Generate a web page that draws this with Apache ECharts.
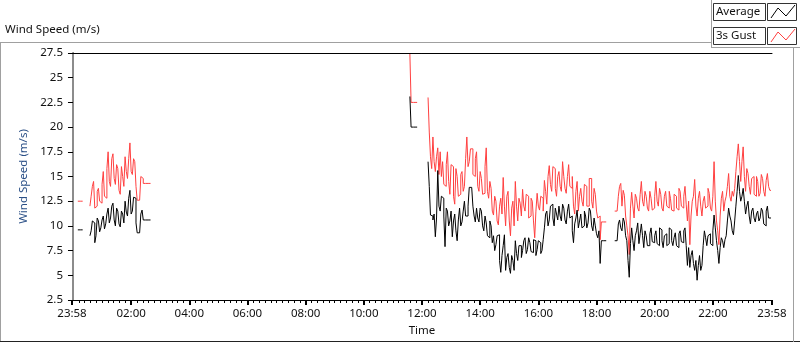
<!DOCTYPE html>
<html><head><meta charset="utf-8">
<script src="https://cdn.jsdelivr.net/npm/echarts@6/dist/echarts.min.js"></script>
<style>html,body{margin:0;padding:0;background:#fff}#c{width:800px;height:342px}</style>
</head><body><div id="c"></div>
<script>
// Samples every 2.5 minutes starting at 00:00 (index i -> minute 2.5*i); 24 samples per hour row; null = no data
const sampleStepMin = 2.5;
const N = null;
const avgSpeed = [
  /*00*/ N,N,N,N,N,9.6,9.6,9.6,9.6,N,N,N,N,N,N,9.0,9.5,10.5,10.3,8.3,9.0,10.8,10.5,9.4,
  /*01*/ 9.8,10.6,11.0,9.7,10.2,11.2,11.8,10.3,10.8,12.0,12.3,10.6,10.0,11.8,11.5,10.2,9.9,11.5,11.2,10.3,12.5,11.4,11.0,12.8,
  /*02*/ 13.6,11.2,11.5,12.9,12.8,10.3,9.3,9.3,9.3,11.2,11.6,10.6,10.6,10.6,10.6,10.6,10.6,N,N,N,N,N,N,N,
  /*03*/ N,N,N,N,N,N,N,N,N,N,N,N,N,N,N,N,N,N,N,N,N,N,N,N,
  /*04*/ N,N,N,N,N,N,N,N,N,N,N,N,N,N,N,N,N,N,N,N,N,N,N,N,
  /*05*/ N,N,N,N,N,N,N,N,N,N,N,N,N,N,N,N,N,N,N,N,N,N,N,N,
  /*06*/ N,N,N,N,N,N,N,N,N,N,N,N,N,N,N,N,N,N,N,N,N,N,N,N,
  /*07*/ N,N,N,N,N,N,N,N,N,N,N,N,N,N,N,N,N,N,N,N,N,N,N,N,
  /*08*/ N,N,N,N,N,N,N,N,N,N,N,N,N,N,N,N,N,N,N,N,N,N,N,N,
  /*09*/ N,N,N,N,N,N,N,N,N,N,N,N,N,N,N,N,N,N,N,N,N,N,N,N,
  /*10*/ N,N,N,N,N,N,N,N,N,N,N,N,N,N,N,N,N,N,N,N,N,N,N,N,
  /*11*/ N,N,N,N,N,N,N,N,N,N,N,N,N,N,N,23.1,20.0,20.0,20.0,20.0,20.0,N,N,N,
  /*12*/ N,N,N,N,N,N,16.5,14.0,11.1,11.0,10.6,11.2,8.9,10.8,15.6,12.0,11.5,13.0,12.8,11.0,7.9,11.8,11.5,10.0,
  /*13*/ 10.5,11.5,8.9,10.5,11.2,9.5,8.5,10.6,11.8,10.0,10.4,11.5,12.5,11.0,11.0,12.0,13.9,13.9,13.9,12.0,11.0,10.4,11.8,10.8,
  /*14*/ 10.4,11.8,11.5,10.0,9.5,11.0,10.3,9.0,8.8,10.5,10.0,8.3,9.0,7.5,8.1,9.0,9.1,6.5,5.3,7.0,8.0,9.1,5.5,6.8,
  /*15*/ 7.2,5.8,5.2,7.0,6.5,5.5,8.5,7.2,6.5,8.0,8.0,6.8,7.5,8.5,8.8,7.2,7.6,8.8,8.3,7.4,7.3,8.6,8.5,7.0,
  /*16*/ 7.6,8.5,8.3,7.2,7.5,8.6,9.8,11.2,11.5,10.0,10.6,12.0,12.2,10.8,10.0,11.8,11.2,10.6,12.0,11.0,10.5,12.2,11.8,10.6,
  /*17*/ 10.2,11.5,12.2,10.8,11.0,9.5,8.3,10.2,10.8,11.6,9.8,10.5,11.2,9.8,10.0,11.5,11.0,9.8,10.3,11.8,11.5,10.0,9.5,10.8,
  /*18*/ 10.0,9.2,8.8,9.5,6.2,8.5,8.5,8.5,8.5,N,N,N,N,N,N,N,8.5,8.5,8.5,10.2,10.6,9.8,9.5,10.8,
  /*19*/ 10.4,9.0,8.5,6.5,4.8,8.2,9.8,8.5,7.5,9.0,9.5,10.3,8.2,9.2,10.2,9.0,7.8,9.5,9.0,8.0,8.0,9.2,9.8,8.4,
  /*20*/ 8.3,9.0,9.5,8.2,8.0,9.8,9.6,8.5,7.8,9.0,9.2,8.0,8.2,9.8,9.6,8.5,8.0,8.8,9.3,8.0,7.8,9.2,9.5,8.4,
  /*21*/ 8.3,9.5,9.8,8.0,6.0,7.8,5.8,7.0,7.5,6.2,5.5,6.5,4.5,6.0,7.0,5.5,6.0,8.0,9.5,8.8,8.0,9.0,9.2,8.2,
  /*22*/ 8.0,9.5,11.1,9.8,8.5,7.5,6.2,7.8,8.8,8.5,7.8,8.6,9.0,10.5,11.8,11.0,10.5,9.5,9.1,10.5,12.0,13.5,15.1,13.5,
  /*23*/ 12.5,13.0,13.8,12.5,11.2,12.0,12.5,11.0,10.2,11.5,11.8,10.8,10.4,11.2,11.5,10.5,10.8,11.8,11.5,10.2,10.0,11.5,12.0,10.8,
  /*24*/ 10.8
];
const gustSpeed = [
  /*00*/ N,N,N,N,N,12.5,12.5,12.5,12.5,N,N,N,N,N,N,12.0,13.0,14.0,14.5,11.8,12.0,13.5,13.8,12.5,
  /*01*/ 12.3,14.2,15.5,13.0,12.8,15.8,17.5,14.5,14.0,16.8,17.3,14.8,14.2,16.2,15.8,13.6,13.2,16.0,15.0,14.0,17.0,15.5,14.8,16.8,
  /*02*/ 18.4,15.5,15.2,16.8,16.5,14.0,12.6,12.6,12.6,15.0,14.8,14.3,14.3,14.3,14.3,14.3,14.3,N,N,N,N,N,N,N,
  /*03*/ N,N,N,N,N,N,N,N,N,N,N,N,N,N,N,N,N,N,N,N,N,N,N,N,
  /*04*/ N,N,N,N,N,N,N,N,N,N,N,N,N,N,N,N,N,N,N,N,N,N,N,N,
  /*05*/ N,N,N,N,N,N,N,N,N,N,N,N,N,N,N,N,N,N,N,N,N,N,N,N,
  /*06*/ N,N,N,N,N,N,N,N,N,N,N,N,N,N,N,N,N,N,N,N,N,N,N,N,
  /*07*/ N,N,N,N,N,N,N,N,N,N,N,N,N,N,N,N,N,N,N,N,N,N,N,N,
  /*08*/ N,N,N,N,N,N,N,N,N,N,N,N,N,N,N,N,N,N,N,N,N,N,N,N,
  /*09*/ N,N,N,N,N,N,N,N,N,N,N,N,N,N,N,N,N,N,N,N,N,N,N,N,
  /*10*/ N,N,N,N,N,N,N,N,N,N,N,N,N,N,N,N,N,N,N,N,N,N,N,N,
  /*11*/ N,N,N,N,N,N,N,N,N,N,N,N,N,N,N,27.4,22.5,22.5,22.5,22.5,22.5,N,N,N,
  /*12*/ N,N,N,N,N,N,23.0,19.5,17.0,15.8,19.0,16.5,15.5,17.0,17.9,15.2,17.5,15.0,16.5,14.2,14.0,16.2,17.5,14.5,
  /*13*/ 13.2,16.2,16.0,13.0,12.2,15.8,15.0,13.0,13.2,15.2,15.5,13.5,14.0,16.8,19.0,16.0,16.5,17.8,17.8,15.2,15.0,16.8,17.5,14.0,
  /*14*/ 13.5,15.5,14.8,13.2,13.3,16.0,17.9,13.5,12.8,14.5,13.8,11.5,11.1,13.0,12.5,10.5,10.1,12.0,12.8,11.2,14.9,12.0,10.0,13.0,
  /*15*/ 13.5,10.5,9.0,11.8,12.5,10.0,14.5,12.0,10.5,12.8,12.3,11.0,13.7,12.0,11.5,13.2,13.0,10.8,11.0,12.8,12.5,10.5,8.8,11.5,
  /*16*/ 13.3,12.0,11.6,13.0,12.8,11.5,14.6,13.5,12.2,15.0,16.1,14.2,13.5,16.0,15.8,13.8,13.0,15.0,15.5,14.0,13.5,16.5,15.0,13.8,
  /*17*/ 13.3,15.0,16.2,14.0,13.8,15.0,12.0,11.2,13.5,14.5,11.5,13.0,13.8,12.5,12.0,14.2,14.0,12.0,12.0,14.8,14.8,12.5,11.8,13.8,
  /*18*/ 13.2,11.5,10.8,11.0,8.6,10.4,10.4,10.4,10.4,N,N,N,N,N,N,N,11.5,11.5,11.5,13.0,14.0,14.3,12.0,13.6,
  /*19*/ 13.1,11.0,10.0,9.0,7.1,11.8,13.4,12.0,10.8,13.2,12.8,11.8,11.5,13.2,14.5,12.5,12.0,13.5,13.0,11.8,11.5,13.5,12.8,11.6,
  /*20*/ 11.8,13.0,14.5,12.5,12.0,13.8,13.2,11.8,11.5,13.0,13.5,12.0,11.8,13.5,12.8,11.6,11.5,13.2,13.0,11.8,11.6,13.8,13.5,12.0,
  /*21*/ 11.8,13.0,14.0,12.2,10.5,12.5,8.1,11.0,12.5,13.0,14.7,12.0,11.0,12.8,13.5,12.0,11.0,12.5,13.0,11.8,12.0,13.8,13.3,11.8,
  /*22*/ 11.5,13.0,16.5,12.5,10.5,9.5,8.1,11.0,12.8,13.5,11.5,12.5,13.0,14.0,15.3,13.0,12.5,13.5,13.0,13.8,15.5,17.0,18.3,16.5,
  /*23*/ 14.5,16.5,18.0,15.0,13.5,15.8,15.3,14.0,13.2,14.8,15.0,13.2,13.0,15.0,14.5,13.0,13.3,15.2,14.8,13.5,13.0,14.6,15.3,14.0,
  /*24*/ 13.6
];
const seriesNames = ['Average', '3s Gust'];
const xTickMinutes = [-2, 120, 240, 360, 480, 600, 720, 840, 960, 1080, 1200, 1320, 1442];
const xTickLabels = ['23:58','02:00','04:00','06:00','08:00','10:00','12:00','14:00','16:00','18:00','20:00','22:00','23:58'];
const yMin = 2.5, yMax = 27.5, yStep = 2.5;

const toPairs = arr => arr.map((v, i) => [i * sampleStepMin, v]);
const minorTicks = [];
for (let m = 12; m < 1440; m += 12) if (m % 120 !== 0) minorTicks.push(m);

const FONT = 'Noto Sans';
const FS = 11.5;
const chart = echarts.init(document.getElementById('c'), null, {renderer: 'canvas'});
const zig = (x, y) => [[x + 3, y + 15], [x + 10, y + 5], [x + 18, y + 13], [x + 27, y + 2]];

chart.setOption({
  animation: false,
  textStyle: {fontFamily: FONT},
  grid: {left: 72, top: 53, width: 700, height: 250, show: false},
  xAxis: [
    {
      type: 'value', min: -2, max: 1442, gridIndex: 0,
      name: 'Time', nameLocation: 'middle', nameGap: 25,
      nameTextStyle: {color: '#111', fontSize: FS, fontFamily: FONT},
      axisLine: {show: true, lineStyle: {color: '#000', width: 1}},
      axisTick: {show: true, inside: false, length: 5, customValues: xTickMinutes, lineStyle: {color: '#000', width: 2}},
      axisLabel: {show: true, customValues: xTickMinutes, margin: 8, color: '#111', fontSize: FS, fontFamily: FONT,
        formatter: v => xTickLabels[xTickMinutes.indexOf(v)] || ''},
      splitLine: {show: false}
    },
    {
      type: 'value', min: -2, max: 1442, gridIndex: 0, position: 'bottom',
      axisLine: {show: false},
      axisTick: {show: true, inside: false, length: 3, customValues: minorTicks, lineStyle: {color: '#000', width: 1}},
      axisLabel: {show: false}, splitLine: {show: false}
    },
    {
      type: 'value', min: -2, max: 1442, gridIndex: 0, position: 'top',
      axisLine: {show: true, lineStyle: {color: '#000', width: 1}},
      axisTick: {show: false}, axisLabel: {show: false}, splitLine: {show: false}
    }
  ],
  yAxis: [
    {
      type: 'value', min: yMin, max: yMax, interval: yStep,
      name: 'Wind Speed (m/s)', nameLocation: 'middle', nameGap: 36,
      nameTextStyle: {color: '#2a4f86', fontSize: FS, fontFamily: FONT},
      axisLine: {show: true, lineStyle: {color: '#000', width: 1}},
      axisTick: {show: true, inside: false, length: 5, lineStyle: {color: '#000'}},
      axisLabel: {color: '#111', fontSize: FS, margin: 9, fontFamily: FONT},
      splitLine: {show: false}
    },
    {
      type: 'value', min: yMin, max: yMax, position: 'right',
      axisLine: {show: true, lineStyle: {color: '#8c8c8c', width: 2}},
      axisTick: {show: false}, axisLabel: {show: false}, splitLine: {show: false}
    }
  ],
  series: [
    {name: seriesNames[0], type: 'line', data: toPairs(avgSpeed), step: 'start', showSymbol: false,
      connectNulls: false, lineStyle: {color: '#000', width: 1}, itemStyle: {color: '#000'}, z: 3},
    {name: seriesNames[1], type: 'line', data: toPairs(gustSpeed), step: 'start', showSymbol: false,
      connectNulls: false, lineStyle: {color: '#ff4040', width: 1}, itemStyle: {color: '#ff4040'}, z: 2}
  ],
  graphic: [
    {type: 'text', left: 5, top: 24, style: {text: 'Wind Speed (m/s)', fontSize: FS, fontFamily: FONT, fill: '#111'}},
    {type: 'line', shape: {x1: 0, y1: 42.5, x2: 712, y2: 42.5}, style: {stroke: '#a0a0a0', lineWidth: 1}},
    {type: 'line', shape: {x1: 0.5, y1: 42, x2: 0.5, y2: 342}, style: {stroke: '#a0a0a0', lineWidth: 1}},
    {type: 'line', shape: {x1: 0, y1: 341.5, x2: 800, y2: 341.5}, style: {stroke: '#222', lineWidth: 1}},
    {type: 'line', shape: {x1: 711.5, y1: 0, x2: 711.5, y2: 48}, style: {stroke: '#a0a0a0', lineWidth: 1}},
    {type: 'line', shape: {x1: 711, y1: 47.5, x2: 800, y2: 47.5}, style: {stroke: '#a0a0a0', lineWidth: 1}},
    {type: 'line', shape: {x1: 793.5, y1: 47, x2: 793.5, y2: 342}, style: {stroke: '#a0a0a0', lineWidth: 1}},
    // legend
    {type: 'rect', shape: {x: 713.5, y: 3.5, width: 52, height: 17}, style: {fill: '#fff', stroke: '#333', lineWidth: 1}},
    {type: 'text', x: 716, y: 12, style: {text: seriesNames[0], fontSize: FS, fontFamily: FONT, fill: '#111', verticalAlign: 'middle'}},
    {type: 'rect', shape: {x: 767.5, y: 3.5, width: 29, height: 17}, style: {fill: '#fff', stroke: '#333', lineWidth: 1}},
    {type: 'polyline', shape: {points: zig(768, 3)}, style: {stroke: '#000', lineWidth: 1, fill: null}},
    {type: 'rect', shape: {x: 713.5, y: 27.5, width: 52, height: 17}, style: {fill: '#fff', stroke: '#333', lineWidth: 1}},
    {type: 'text', x: 716, y: 36, style: {text: seriesNames[1], fontSize: FS, fontFamily: FONT, fill: '#111', verticalAlign: 'middle'}},
    {type: 'rect', shape: {x: 767.5, y: 27.5, width: 29, height: 17}, style: {fill: '#fff', stroke: '#333', lineWidth: 1}},
    {type: 'polyline', shape: {points: zig(768, 27)}, style: {stroke: '#ff4040', lineWidth: 1, fill: null}}
  ]
});
</script>
</body></html>
